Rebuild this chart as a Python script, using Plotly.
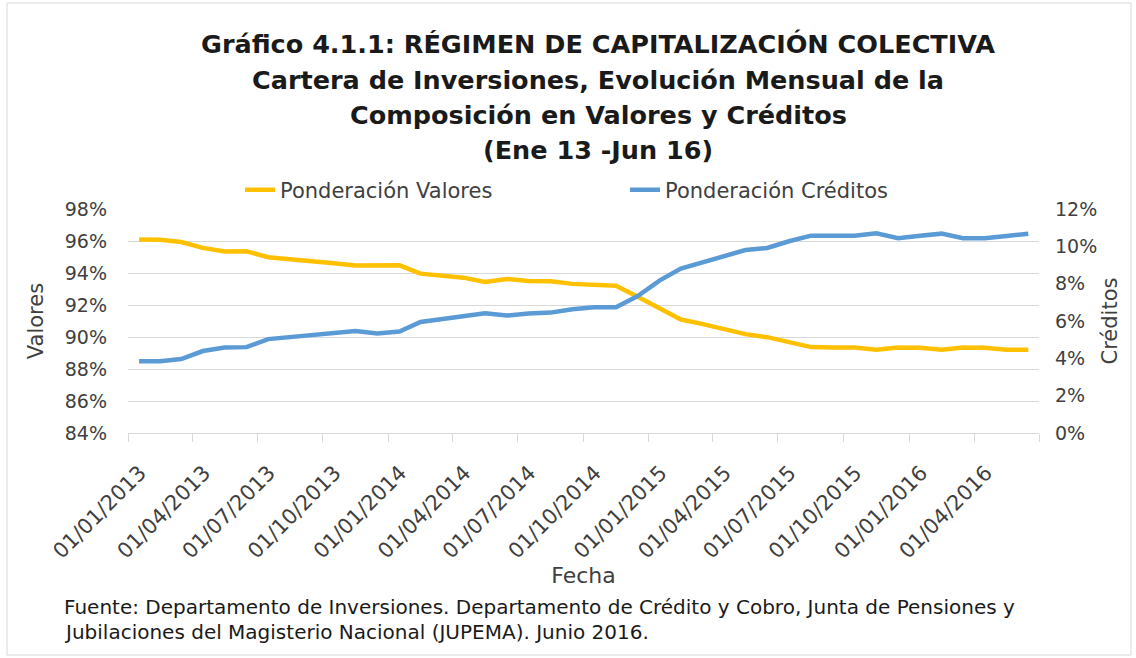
import plotly.graph_objects as go

# ---- data ----
months = [f"{y}-{m:02d}-01" for y in (2013, 2014, 2015, 2016) for m in range(1, 13)][:42]
valores = [96.10, 96.08, 95.94, 95.57, 95.34, 95.36, 94.99, 94.88, 94.76, 94.61,
           94.47, 94.46, 94.48, 93.96, 93.84, 93.71, 93.44, 93.63, 93.50, 93.48,
           93.32, 93.23, 93.21, 92.51, 91.78, 91.09, 90.82, 90.49, 90.18, 89.99,
           89.70, 89.37, 89.35, 89.35, 89.20, 89.35, 89.33, 89.20, 89.35, 89.33,
           89.20, 89.20]
creditos = [3.85, 3.85, 3.96, 4.39, 4.58, 4.60, 5.03, 5.15, 5.28, 5.39,
            5.46, 5.33, 5.44, 5.95, 6.10, 6.22, 6.42, 6.29, 6.40, 6.45,
            6.63, 6.74, 6.74, 7.34, 8.18, 8.81, 9.13, 9.48, 9.80, 9.91,
            10.27, 10.57, 10.57, 10.57, 10.70, 10.43, 10.57, 10.68, 10.43, 10.43,
            10.55, 10.68]
tick_dates = [f"{y}-{m:02d}-01" for y in (2013, 2014, 2015, 2016) for m in (1, 4, 7, 10)][:15]
tick_labels = ["01/01/2013", "01/04/2013", "01/07/2013", "01/10/2013",
               "01/01/2014", "01/04/2014", "01/07/2014", "01/10/2014",
               "01/01/2015", "01/04/2015", "01/07/2015", "01/10/2015",
               "01/01/2016", "01/04/2016", ""]
title_lines = ["Gráfico 4.1.1: RÉGIMEN DE CAPITALIZACIÓN COLECTIVA",
               "Cartera de Inversiones, Evolución Mensual de la",
               "Composición en Valores y Créditos",
               "(Ene 13 -Jun 16)"]
source_lines = ["Fuente: Departamento de Inversiones. Departamento de Crédito y Cobro, Junta de Pensiones y",
                "Jubilaciones del Magisterio Nacional (JUPEMA). Junio 2016."]

FONT = "DejaVu Sans"
W, H = 1136, 658
PLOT_RIGHT = 1039          # right end of the x axis
Y2_POS = 1054              # where the right-hand axis labels are anchored
L, R, T, B = 128, W - Y2_POS, 209, 225
PW, PH = W - L - R, H - T - B


def px(x):
    return (x - L) / PW


def py(y):
    return (H - B - y) / PH


fig = go.Figure()
fig.add_trace(go.Scatter(x=months, y=valores, name="Ponderación Valores", mode="lines",
                         line=dict(color="#FFC000", width=4.5),
                         xperiod="M1", xperiodalignment="middle", yaxis="y"))
fig.add_trace(go.Scatter(x=months, y=creditos, name="Ponderación Créditos", mode="lines",
                         line=dict(color="#5B9BD5", width=4.5),
                         xperiod="M1", xperiodalignment="middle", yaxis="y2"))

annotations = []
for t, yc in zip(title_lines, [44, 80, 115, 150]):
    annotations.append(dict(text=f"<b>{t}</b>", x=px(598), y=py(yc), xref="paper", yref="paper",
                            xanchor="center", yanchor="middle", showarrow=False,
                            font=dict(family=FONT, size=25.5, color="#1a1a1a")))
for t, yc in zip(source_lines, [607, 632]):
    annotations.append(dict(text=t, x=px(62), y=py(yc), xref="paper", yref="paper",
                            xanchor="left", yanchor="middle", showarrow=False,
                            font=dict(family=FONT, size=20, color="#1a1a1a")))

fig.update_layout(
    width=W, height=H,
    margin=dict(l=L, r=R, t=T, b=B, autoexpand=False),
    paper_bgcolor="white", plot_bgcolor="white",
    font=dict(family=FONT, color="#404040"),
    showlegend=True,
    legend=dict(orientation="h", x=px(240), y=py(190), xanchor="left", yanchor="middle",
                font=dict(family=FONT, size=21, color="#404040"),
                entrywidth=340, entrywidthmode="pixels", bgcolor="rgba(0,0,0,0)"),
    annotations=annotations,
    xaxis=dict(type="date", range=["2013-01-01", "2016-07-01"], domain=[0, px(PLOT_RIGHT)],
               tickmode="array", tickvals=tick_dates, ticktext=tick_labels,
               tickangle=-45, tickfont=dict(family=FONT, size=21, color="#404040"),
               ticklabelshift=12, ticklabelstandoff=10,
               ticks="outside", ticklen=8, tickcolor="#d9d9d9",
               showline=True, linecolor="#d9d9d9", linewidth=1.3,
               showgrid=False, zeroline=False,
               title=dict(text="Fecha", font=dict(family=FONT, size=22, color="#404040"), standoff=4)),
    yaxis=dict(range=[84, 98], dtick=2, ticksuffix="%", showgrid=True, gridcolor="#d9d9d9",
               gridwidth=1.3, zeroline=False, ticks="", ticklabelstandoff=20,
               tickfont=dict(family=FONT, size=19, color="#404040"),
               title=dict(text="Valores", font=dict(family=FONT, size=21, color="#404040"), standoff=15)),
    yaxis2=dict(range=[0, 12], dtick=2, ticksuffix="%", overlaying="y", side="right",
                anchor="free", position=1,
                showgrid=False, zeroline=False, ticks="", showline=False,
                tickfont=dict(family=FONT, size=19, color="#404040"),
                title=dict(text="Créditos", font=dict(family=FONT, size=21, color="#404040"), standoff=6)),
    shapes=[dict(type="rect", xref="paper", yref="paper", x0=px(7), x1=px(1131), y0=py(655), y1=py(3),
                 line=dict(color="#d9d9d9", width=1), fillcolor="rgba(0,0,0,0)", layer="below")],
)

fig.write_html("out.html", config={"displayModeBar": False},
               post_script="document.body.style.margin='0px';")
